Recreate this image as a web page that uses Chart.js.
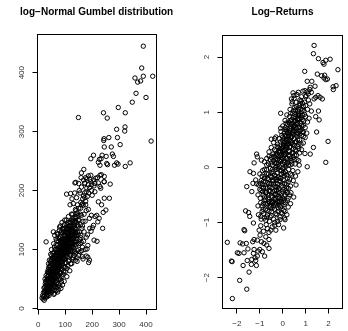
<!DOCTYPE html>
<html><head><meta charset="utf-8">
<script src="https://cdn.jsdelivr.net/npm/chart.js@4/dist/chart.umd.min.js"></script>
<style>
html,body{margin:0;padding:0;background:#fff;width:348px;height:331px;overflow:hidden}
canvas{position:absolute;top:0}
#c1{left:0}
#c2{left:174px}
</style></head><body>
<canvas id="c2" width="174" height="331"></canvas>
<canvas id="c1" width="194" height="331"></canvas>
<script>
const titles = ['log\u2212Normal Gumbel distribution', 'Log\u2212Returns'];
const gumbelTicks = [0, 100, 200, 300, 400];
const gumbelTickLabels = ['0', '100', '200', '300', '400'];
const returnsTicks = [-2, -1, 0, 1, 2];
const returnsTickLabels = ['\u22122', '\u22121', '0', '1', '2'];

const gumbelUpper = [
[390,445],[384,408],[359,391],[390,394],[425,394],[369,384],[380,386],[363,365],[400,358],[349,350],
[297,341],[323,332],[242,332],[256,323],[149,324],[322,308],[321,301],[291,304],[262,290],[244,288],
[243,285],[294,290],[419,284],[304,278],[245,274],[271,274],[205,260],[237,260],[252,258],[275,262],
[279,258],[227,253],[195,254],[233,254],[223,248],[254,246],[257,244],[291,247],[296,245],[283,243],
[341,247],[323,241],[229,243],[169,236],[229,226],[234,227],[159,222],[186,225],[139,214],[168,218],
[192,219],[205,218],[213,221],[245,224],[267,211],[245,215],[173,213],[198,210],[229,207]
];
const gumbelMiddle = [
[136,213],[172,212],[195,215],[223,213],[244,215],[207,208],[232,204],[105,194],[120,195],[155,196],
[178,198],[187,196],[198,200],[168,191],[173,188],[245,187],[264,187],[223,181],[161,176],[167,175],
[176,176],[186,168],[235,176],[241,163],[251,167],[217,158],[226,153],[211,156],[197,158],[190,153],
[221,147],[205,141],[191,136],[201,137],[239,136],[196,131],[183,125],[207,116],[218,114],[178,121],
[184,107],[181,101],[161,98],[178,89],[184,87],[163,88],[144,80],[190,82],[187,78],[29,113],[56,130],
[150,170],[158,180],[165,186],[172,196],[180,204],[142,188],[152,200],[160,206],[176,182],[182,190],
[190,205],[200,192],[210,198],[170,160],[178,166],[156,160],[146,176],[138,168],[130,178],[125,186],
[118,176],[135,196],[128,160],[148,150],[164,140],[174,148],[170,130],[158,124],[168,114],[156,110],
[174,100],[150,90],[166,84],[180,220],[195,226],[210,212],[220,222],[186,210],[176,222],[150,212],[160,230]
];
const gumbelCore = [
[14,18],[18,16],[22,14],[19,27],[24,22],[27,31],[21,35],[30,26],[26,42],[33,20],
[35,34],[31,48],[29,56],[38,28],[36,44],[40,38],[34,62],[42,52],[39,70],[45,30],
[44,45],[47,60],[41,82],[48,36],[50,74],[46,92],[52,50],[53,64],[49,100],[55,42],
[56,85],[54,30],[58,58],[57,110],[60,70],[59,95],[62,46],[63,80],[61,124],[65,100],
[64,36],[67,62],[66,88],[68,115],[70,54],[69,128],[72,76],[71,96],[74,42],[73,108],
[75,66],[76,86],[77,120],[78,52],[79,138],[80,98],[81,72],[82,110],[83,60],[84,128],
[85,88],[86,45],[87,104],[88,146],[89,76],[90,118],[91,92],[92,58],[93,134],[94,100],
[95,70],[96,124],[97,84],[98,150],[99,110],[100,62],[101,96],[102,138],[103,78],[104,118],
[105,104],[106,54],[107,142],[108,88],[109,126],[110,72],[111,112],[112,156],[113,98],[114,134],
[115,82],[116,120],[117,64],[118,146],[119,104],[120,90],[121,130],[122,112],[123,160],[124,76],
[125,140],[126,96],[127,122],[128,104],[129,150],[130,86],[132,132],[133,114],[134,96],[135,142],
[136,124],[138,82],[139,156],[140,108],[141,134],[143,118],[144,162],[145,98],[147,140],[148,126],
[150,110],[151,150],[153,130],[155,96],[156,142],[158,120],[160,158],[162,136],[164,104],[166,148],
[28,38],[33,40],[37,55],[43,64],[46,72],[51,82],[55,68],[58,78],[62,90],[66,72],
[70,84],[73,94],[76,102],[80,88],[83,96],[86,112],[89,100],[92,108],[95,116],[98,92],
[102,112],[106,122],[110,100],[114,110],[118,122],[122,100],[126,130],[131,120],[137,112],[142,146],
[32,30],[44,38],[52,40],[60,54],[64,58],[68,44],[72,62],[78,70],[84,78],[88,66],
[94,86],[100,84],[104,90],[108,108],[116,92],[120,118],[128,138],[134,108],[146,130],[152,118],
[25,50],[38,76],[48,84],[54,94],[60,104],[66,118],[72,126],[78,132],[82,140],[90,136],
[96,142],[104,150],[110,146],[118,136],[124,150],[132,154],[140,166],[148,158],[157,170],[165,178],
[35,24],[42,32],[50,28],[57,38],[63,40],[70,36],[76,48],[82,50],[88,54],[94,62],
[100,70],[106,68],[112,80],[120,76],[126,84],[132,90],[138,94],[144,86],[150,100],[160,112],
[58,24],[72,28],[84,34],[90,40],[96,46],[60,26],[75,32],[80,38],[66,30],[40,22]
];
const gumbelDense = [
[16,22],[20,20],[23,28],[26,18],[29,34],[31,22],[34,28],[37,36],[39,46],[41,42],
[43,26],[45,52],[47,44],[49,56],[51,34],[53,46],[55,58],[57,50],[59,66],[61,38],
[63,52],[65,74],[67,48],[69,68],[71,58],[73,80],[75,56],[77,74],[79,62],[81,84],
[83,68],[85,100],[87,72],[89,92],[91,80],[93,118],[95,94],[97,102],[99,78],[101,124],
[103,106],[105,92],[107,114],[109,96],[111,130],[113,118],[115,106],[117,140],[119,116],[121,98],
[123,124],[125,110],[127,148],[129,118],[131,104],[133,136],[135,122],[137,148],[139,128],[141,114],
[30,44],[34,50],[38,62],[42,72],[46,80],[50,90],[54,76],[58,88],[62,100],[66,108],
[70,100],[74,114],[78,118],[82,122],[86,130],[90,104],[94,130],[98,136],[102,128],[106,134],
[48,48],[52,58],[56,64],[60,80],[64,92],[68,82],[72,90],[76,94],[80,104],[84,114],
[88,84],[92,96],[96,108],[100,100],[104,108],[108,116],[112,124],[116,132],[120,140],[124,118],
[40,56],[44,66],[36,48],[32,36],[28,28],[24,36],[46,40],[50,62],[56,48],[62,62],
[68,58],[74,70],[80,78],[86,92],[92,84],[98,116],[104,98],[110,120],[116,112],[122,130],
[27,46],[33,54],[37,66],[41,60],[45,76],[49,68],[53,86],[57,72],[61,84],[65,90],
[69,94],[73,86],[77,98],[81,106],[85,116],[89,110],[93,112],[97,126],[101,116],[105,128],
[109,136],[113,140],[117,124],[121,146],[125,132],[129,128],[133,146],[137,136],[141,154],[145,142],
[39,32],[47,52],[55,50],[59,60],[63,68],[67,76],[71,70],[75,78],[79,90],[83,88],
[87,90],[91,100],[95,104],[99,96],[103,100],[107,104],[111,94],[115,100],[119,110],[123,104],
[65,66],[69,78],[73,66],[77,84],[81,94],[85,80],[89,86],[93,90],[97,96],[101,108],
[105,114],[109,110],[113,106],[117,116],[121,122],[125,124],[129,112],[133,126],[137,130],[141,124]
];

const returnsSparse = [
[1.37,2.21],[1.34,2.06],[1.56,1.97],[1.80,1.87],[1.88,1.94],[2.07,1.96],[1.76,1.90],[0.96,1.74],[2.41,1.77],[1.51,1.69],
[1.70,1.66],[1.83,1.67],[1.80,1.62],[1.95,1.60],[1.88,1.59],[1.07,1.56],[1.27,1.56],[0.97,1.39],[1.07,1.37],[1.18,1.41],
[1.41,1.47],[2.21,1.41],[2.33,1.48],[2.20,1.46],[1.54,1.30],[1.63,1.27],[1.44,1.27],[1.73,1.24],[1.37,1.24],[0.45,1.35],
[0.49,1.30],[0.38,1.24],[0.42,1.19],[1.56,1.02],[1.44,0.92],[1.59,0.86],[1.15,0.89],[1.48,0.64],[1.98,0.47],[1.34,0.36],
[1.88,0.09],[1.07,0.01],[0.97,0.25],[1.20,0.24],[-0.09,0.98],[0.13,0.68],[-0.09,0.71],[-0.50,0.51],[-0.35,0.52],
[1.02,1.30],[1.12,1.33],[1.25,1.36],[1.20,1.45],
[-1.14,0.24],[-1.28,-0.11],[-1.57,-0.35],[-1.30,-0.29],[-1.11,0.19],[-1.25,0.08],[-0.93,0.13],[-1.43,-0.08],[-1.18,-0.23],[-0.99,-0.29],
[-0.85,-0.38],[-1.14,-0.30],[-1.35,-0.44],[-1.62,-0.79],[-1.49,-0.82],[-1.44,-0.89],[-1.28,-1.01],[-1.69,-1.13],[-1.66,-1.15],[-0.96,-0.89],
[-2.42,-1.36],[-1.86,-1.37],[-1.75,-1.39],[-1.59,-1.38],[-1.31,-1.35],[-1.25,-1.31],[-1.11,-1.32],[-1.52,-1.48],[-1.25,-1.49],[-1.08,-1.52],
[-1.00,-1.49],[-1.98,-1.55],[-1.91,-1.56],[-1.69,-1.55],[-1.28,-1.56],[-2.24,-1.70],[-2.21,-1.71],[-1.55,-1.69],[-1.35,-1.67],[-1.21,-1.64],
[-1.15,-1.78],[-1.37,-1.76],[-1.73,-1.78],[-1.47,-1.90],[-1.88,-2.05],[-1.57,-2.21],[-2.20,-2.38],[-0.79,-1.61],[-0.60,-1.47],[-0.82,-1.38],
[-1.03,-1.14],[-0.67,-1.11],[-0.52,-1.14],[-0.35,-1.05],[-0.12,-0.95],[0.10,-0.95],[-0.99,-1.23],[-0.74,-1.26],[-0.60,-1.31],[-0.93,-1.35],
[-0.70,-1.41],[-0.89,-1.53],[-1.11,-1.61],[-1.18,-1.69]
];
const returnsCore = [
[0.50,1.25],[0.62,1.32],[0.75,1.22],[0.88,1.38],[1.00,1.28],[1.12,1.22],[0.68,1.36],[0.82,1.28],
[0.32,1.05],[0.40,1.15],[0.52,1.08],[0.58,1.18],[0.66,1.02],[0.72,1.12],[0.80,1.06],[0.86,1.16],[0.93,1.02],[1.00,1.12],[1.08,1.05],[1.18,1.15],[1.25,1.02],[0.46,1.02],
[0.10,0.85],[0.18,0.95],[0.25,0.82],[0.30,0.92],[0.38,0.86],[0.44,0.98],[0.50,0.84],[0.56,0.92],[0.62,0.82],[0.68,0.96],[0.74,0.88],[0.80,0.80],[0.86,0.94],[0.92,0.84],[1.00,0.92],[1.08,0.82],[0.35,0.98],[0.65,0.88],
[-0.08,0.65],[0.00,0.75],[0.06,0.62],[0.12,0.72],[0.18,0.66],[0.22,0.78],[0.28,0.62],[0.32,0.70],[0.38,0.78],[0.42,0.64],[0.48,0.74],[0.54,0.66],[0.58,0.78],[0.64,0.62],[0.70,0.72],[0.76,0.66],[0.82,0.76],[0.90,0.64],[0.98,0.72],[1.05,0.62],[0.15,0.80],[0.45,0.60],
[-0.40,0.45],[-0.30,0.55],[-0.22,0.42],[-0.16,0.52],[-0.10,0.46],[-0.04,0.58],[0.02,0.44],[0.06,0.52],[0.10,0.40],[0.14,0.56],[0.20,0.48],[0.24,0.42],[0.28,0.58],[0.34,0.46],[0.38,0.54],[0.44,0.42],[0.50,0.52],[0.56,0.46],[0.62,0.56],[0.68,0.42],[0.74,0.50],[0.82,0.58],[0.90,0.44],[0.98,0.54],[0.00,0.55],[0.30,0.50],
[-0.60,0.28],[-0.50,0.36],[-0.42,0.24],[-0.36,0.32],[-0.30,0.22],[-0.24,0.38],[-0.18,0.28],[-0.12,0.34],[-0.08,0.22],[-0.02,0.30],[0.02,0.38],[0.06,0.24],[0.10,0.32],[0.14,0.26],[0.18,0.36],[0.24,0.22],[0.28,0.30],[0.34,0.38],[0.40,0.26],[0.46,0.34],[0.52,0.22],[0.58,0.30],[0.66,0.38],[0.74,0.26],[0.82,0.32],[-0.20,0.20],[0.08,0.30],[0.30,0.28],
[-0.80,0.10],[-0.70,0.16],[-0.62,0.06],[-0.54,0.14],[-0.46,0.04],[-0.40,0.12],[-0.34,0.18],[-0.28,0.08],[-0.22,0.14],[-0.16,0.02],[-0.10,0.10],[-0.04,0.18],[0.00,0.06],[0.04,0.12],[0.10,0.02],[0.14,0.16],[0.20,0.08],[0.26,0.14],[0.32,0.04],[0.38,0.12],[0.46,0.18],[0.54,0.06],[0.62,0.14],[0.72,0.04],[-0.06,0.14],[-0.30,0.00],[0.08,0.08],[-0.50,0.18],
[-1.00,-0.12],[-0.88,-0.06],[-0.78,-0.16],[-0.70,-0.04],[-0.62,-0.12],[-0.54,-0.02],[-0.48,-0.18],[-0.42,-0.08],[-0.36,-0.14],[-0.30,-0.04],[-0.24,-0.10],[-0.18,-0.18],[-0.12,-0.06],[-0.06,-0.12],[0.00,-0.02],[0.06,-0.16],[0.12,-0.08],[0.18,-0.14],[0.26,-0.04],[0.34,-0.12],[0.44,-0.06],[0.56,-0.16],[0.66,-0.08],[-0.20,-0.02],[-0.08,-0.20],[0.02,-0.10],
[-1.05,-0.32],[-0.94,-0.24],[-0.84,-0.36],[-0.76,-0.26],[-0.68,-0.38],[-0.60,-0.22],[-0.52,-0.30],[-0.46,-0.38],[-0.40,-0.24],[-0.34,-0.34],[-0.28,-0.22],[-0.22,-0.30],[-0.16,-0.38],[-0.10,-0.26],[-0.04,-0.34],[0.02,-0.22],[0.08,-0.30],[0.16,-0.38],[0.24,-0.26],[0.34,-0.34],[0.46,-0.24],[0.58,-0.32],[-0.30,-0.30],[-0.56,-0.36],
[-1.08,-0.50],[-0.98,-0.56],[-0.88,-0.44],[-0.80,-0.54],[-0.72,-0.46],[-0.64,-0.58],[-0.58,-0.42],[-0.50,-0.52],[-0.44,-0.44],[-0.38,-0.58],[-0.32,-0.48],[-0.26,-0.42],[-0.20,-0.54],[-0.14,-0.46],[-0.08,-0.58],[-0.02,-0.44],[0.06,-0.52],[0.14,-0.42],[0.24,-0.56],[0.36,-0.46],[0.48,-0.54],[-0.60,-0.50],
[-1.08,-0.70],[-0.96,-0.64],[-0.86,-0.76],[-0.76,-0.66],[-0.68,-0.78],[-0.60,-0.62],[-0.52,-0.72],[-0.44,-0.64],[-0.36,-0.76],[-0.28,-0.66],[-0.20,-0.74],[-0.12,-0.62],[-0.04,-0.70],[0.04,-0.78],[0.12,-0.64],[0.24,-0.72],[0.34,-0.66],[-0.48,-0.80],
[-1.06,-0.86],[-0.94,-0.94],[-0.84,-0.84],[-0.74,-0.96],[-0.66,-0.86],[-0.58,-0.98],[-0.50,-0.88],[-0.40,-0.94],[-0.30,-0.84],[-0.22,-0.98],[-0.12,-0.90],[-0.02,-0.84],[0.08,-0.92],[0.18,-0.86],
[-0.96,-1.06],[-0.84,-1.16],[-0.72,-1.04],[-0.60,-1.18],[-0.46,-1.08],[-0.30,-1.14],[-0.18,-1.04],[0.04,-1.10]
];
const returnsDense = [
[-0.9,-0.3],[-0.8,-0.2],[-0.7,-0.12],[-0.6,-0.3],[-0.5,-0.1],[-0.4,-0.3],[-0.3,-0.16],[-0.2,-0.4],[-0.1,-0.2],[0.0,-0.3],
[0.1,-0.12],[0.2,-0.2],[0.3,-0.22],[0.4,-0.14],[-0.9,-0.7],[-0.8,-0.6],[-0.7,-0.68],[-0.6,-0.8],[-0.5,-0.62],[-0.4,-0.7],
[-0.3,-0.56],[-0.2,-0.64],[-0.1,-0.72],[0.0,-0.56],[0.1,-0.5],[0.2,-0.46],[0.3,-0.5],[-0.95,-0.42],[-0.85,-0.5],[-0.75,-0.58],
[-0.65,-0.48],[-0.55,-0.44],[-0.45,-0.54],[-0.35,-0.42],[-0.25,-0.5],[-0.15,-0.56],[-0.05,-0.48],[0.05,-0.4],[0.15,-0.3],[0.25,-0.38],
[-0.7,0.04],[-0.6,0.2],[-0.5,0.08],[-0.4,0.2],[-0.3,0.14],[-0.2,0.06],[-0.1,0.2],[0.0,0.16],[0.1,0.24],[0.2,0.16],
[0.3,0.2],[0.4,0.06],[0.5,0.14],[0.6,0.22],[0.7,0.12],[-0.3,0.3],[-0.2,0.36],[-0.1,0.28],[0.0,0.36],[0.1,0.46],
[0.2,0.4],[0.3,0.36],[0.4,0.44],[0.5,0.4],[0.6,0.46],[0.7,0.34],[0.8,0.42],[0.0,0.48],[0.1,0.58],[0.2,0.62],
[0.3,0.66],[0.4,0.56],[0.5,0.66],[0.6,0.7],[0.7,0.6],[0.8,0.68],[0.9,0.56],[0.2,0.7],[0.35,0.74],[0.5,0.76],
[0.65,0.8],[0.8,0.9],[0.9,0.76],[0.4,0.86],[0.55,0.96],[0.7,0.98],[0.85,1.04],[0.95,0.96],[0.6,1.1],[0.75,1.16],
[-1.0,-0.4],[-0.9,-0.16],[-0.8,-0.04],[-0.75,-0.46],[-0.66,-0.2],[-0.56,-0.64],[-0.46,-0.74],[-0.36,-0.66],[-0.26,-0.86],[-0.16,-0.7],
[-0.06,-0.82],[0.06,-0.68],[-0.9,-0.8],[-0.8,-0.92],[-0.7,-0.9],[-0.55,-0.9],[-0.35,-1.0],[-0.2,-0.8],[0.1,-0.8],[0.2,-0.6],
[-0.25,0.02],[-0.15,0.12],[-0.05,0.24],[0.05,0.28],[0.15,0.38],[0.25,0.46],[0.35,0.56],[0.45,0.64],[0.55,0.72],[0.65,0.86],
[0.75,0.94],[0.85,0.86],[0.45,0.74],[0.35,0.84],[0.25,0.56],[0.15,0.5],[0.05,0.4],[-0.05,0.34],[-0.15,0.3],[-0.25,0.24],
[-0.35,0.08],[-0.45,-0.04],[-0.55,-0.16],[-0.65,-0.28],[-0.75,-0.36],[-0.85,-0.26],[-0.45,-0.24],[-0.35,-0.2],[-0.25,-0.36],[-0.15,-0.24],
[-0.05,-0.06],[0.05,-0.02],[0.15,0.06],[0.25,0.04],[0.35,0.16],[0.45,0.26],[0.55,0.32],[0.65,0.5],[0.75,0.72],[0.85,0.64],
[-0.35,-0.5],[-0.45,-0.62],[-0.55,-0.7],[-0.65,-0.66],[-0.75,-0.76],[-0.25,-0.62],[-0.15,-0.62],[-0.05,-0.62],[0.05,-0.6],[-0.85,-0.66],
[0.55,0.84],[0.65,0.94],[0.45,0.9],[0.7,1.06],[0.9,1.1],[0.55,1.04],[0.8,1.2],[0.95,1.18],[0.6,0.6],[0.3,0.8]
];

const FONT = "'Liberation Sans', Arial, Helvetica, sans-serif";

const boxPlugin = {
  id: 'box',
  afterDatasetsDraw(chart) {
    const {ctx, chartArea: a} = chart;
    ctx.save();
    ctx.strokeStyle = '#000';
    ctx.lineWidth = 1;
    ctx.strokeRect(a.left, a.top, a.right - a.left, a.bottom - a.top);
    ctx.restore();
  }
};

function axis(cfg, isY) {
  const ticksArr = isY ? cfg.yTicks : cfg.xTicks;
  const labels = isY ? cfg.yLabels : cfg.xLabels;
  return {
    type: 'linear',
    position: isY ? 'left' : 'bottom',
    min: isY ? cfg.yMin : cfg.xMin,
    max: isY ? cfg.yMax : cfg.xMax,
    afterBuildTicks: s => { s.ticks = ticksArr.map(v => ({value: v})); },
    afterFit: s => { if (isY) s.width = cfg.yW; else s.height = cfg.xH; },
    grid: {display: true, drawOnChartArea: false, drawTicks: true, tickLength: 5, color: '#000', lineWidth: 1},
    border: {display: false},
    ticks: {
      autoSkip: false,
      includeBounds: false,
      callback: (v, i) => labels[i],
      font: {family: FONT, size: 8},
      color: '#333',
      padding: isY ? cfg.yPad : 5,
      minRotation: isY ? 90 : 0,
      maxRotation: isY ? 90 : 0,
      crossAlign: isY ? 'center' : 'near'
    }
  };
}

function makeChart(id, pts, cfg) {
  const scales = {x: axis(cfg, false), y: axis(cfg, true)};
  if (cfg.spacerW) {
    scales.spacer = {
      type: 'linear', position: 'right', display: true,
      grid: {display: false}, border: {display: false}, ticks: {display: false},
      afterFit: s => { s.width = cfg.spacerW; }
    };
  }
  return new Chart(document.getElementById(id), {
    type: 'scatter',
    data: {datasets: [{
      data: pts.map(p => ({x: p[0], y: p[1]})),
      pointStyle: 'circle', pointRadius: 2.2, pointHoverRadius: 2.2,
      borderColor: '#000', backgroundColor: 'rgba(0,0,0,0)', borderWidth: 1
    }]},
    options: {
      responsive: false, animation: false, devicePixelRatio: 1,
      layout: {padding: {left: 0, right: cfg.padRight, top: 0, bottom: 0}},
      plugins: {
        legend: {display: false}, tooltip: {enabled: false},
        title: {display: true, text: cfg.title, fullSize: cfg.fullTitle, color: '#000',
          font: {family: FONT, size: 10, weight: 'bold', lineHeight: 1.2},
          padding: {top: 6, bottom: cfg.titleBottom}}
      },
      scales
    },
    plugins: [boxPlugin]
  });
}

makeChart('c1', gumbelCore.concat(gumbelDense, gumbelMiddle, gumbelUpper), {
  title: titles[0], fullTitle: true, padRight: 0.8, spacerW: 36.7, titleBottom: 16.5, yW: 37.5, xH: 21.5, yPad: 4.3,
  xMin: -3.0, xMax: 439, yMin: -1.7, yMax: 464.8,
  xTicks: gumbelTicks, xLabels: gumbelTickLabels, yTicks: gumbelTicks, yLabels: gumbelTickLabels
});
makeChart('c2', returnsCore.concat(returnsDense, returnsSparse), {
  title: titles[1], fullTitle: false, padRight: 5.5, spacerW: 0, titleBottom: 17.5, yW: 48.5, xH: 22.5, yPad: 6.6,
  xMin: -2.63, xMax: 2.61, yMin: -2.56, yMax: 2.39,
  xTicks: returnsTicks, xLabels: returnsTickLabels, yTicks: returnsTicks, yLabels: returnsTickLabels
});
</script>
</body></html>
